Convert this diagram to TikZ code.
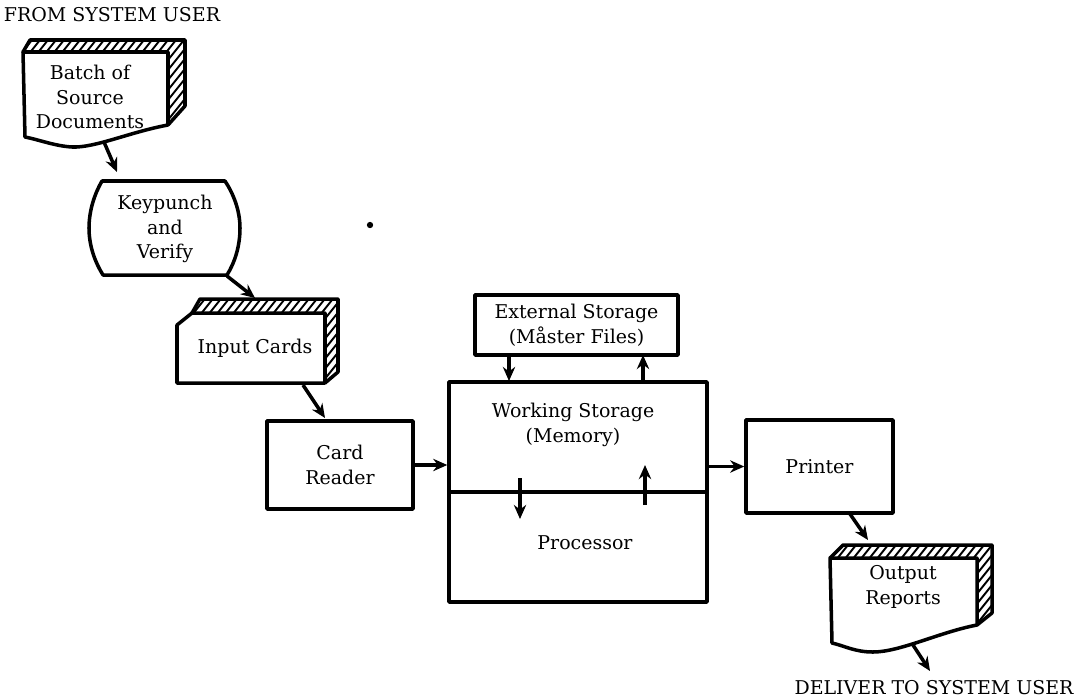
\documentclass[tikz,border=0pt]{standalone}
\usepackage{fontspec}
\setmainfont{DejaVu Serif}
\usetikzlibrary{arrows.meta}

\tikzset{
  box/.style={draw, line width=2pt, inner sep=0pt, align=center},
  outline/.style={line width=2pt},
  flow/.style={-{Stealth[length=8pt,width=7pt]}, line width=2pt},
  hatch/.style={line width=1.1pt},
  txt/.style={align=center, inner sep=0pt},
}

\begin{document}
\begin{tikzpicture}[x=0.02cm, y=-0.02cm, font=\fontsize{10.8}{14}\selectfont, line join=round]
    \useasboundingbox (0,0) rectangle (1081,697);

    % Batch of source documents
    \begin{scope}
        \clip (23,52) -- (30,40) -- (185,40) -- (185,106) -- (168,125) -- (168,52) -- cycle;
        \foreach \i in {-80,-72,...,190}
            \draw[hatch] (\i,130) -- (\i+80,30);
    \end{scope}
    \draw[outline] (23,52) -- (30,40) -- (185,40) -- (185,106) -- (168,125);
    \draw[outline] (23,52) -- (168,52) -- (168,125) .. controls (130,132) and (95,148) .. (72,147)
        .. controls (55,146) and (40,140) .. (25,137) -- cycle;
    \node[txt] (batch) at (90,97) {Batch of\\Source\\Documents};
    \node[txt] (from) at (112,15) {FROM SYSTEM USER};

    % Keypunch
    \draw[outline] (102,181) -- (225,181) .. controls (233,193) and (240,210) .. (240,228)
        .. controls (240,246) and (235,262) .. (227,275) -- (103,275)
        .. controls (95,262) and (89,246) .. (89,228) .. controls (89,210) and (95,193) .. (102,181) -- cycle;
    \node[txt] (key) at (165,229) {Keypunch\\and\\Verify};

    % Input cards
    \begin{scope}
        \clip (192,313) -- (200,299) -- (338,299) -- (338,372) -- (325,383) -- (325,313) -- cycle;
        \foreach \i in {100,108,...,340}
            \draw[hatch] (\i,390) -- (\i+80,290);
    \end{scope}
    \draw[outline] (192,313) -- (200,299) -- (338,299) -- (338,372) -- (325,383);
    \draw[outline] (177,325) -- (192,313) -- (325,313) -- (325,383) -- (177,383) -- cycle;
    \node[txt] (cards) at (255,348) {Input Cards};

    % Machine
    \node[box, minimum width=2.92cm, minimum height=1.76cm] (reader) at (340,465) {Card\\Reader};
    \node[box, minimum width=4.06cm, minimum height=1.2cm] (ext) at (576.5,325) {External Storage\\(Måster Files)};
    \node[box, minimum width=5.16cm, minimum height=4.4cm] (cpu) at (578,492) {};
    \draw[outline] (cpu.west) -- (cpu.east);
    \node[txt] (memory) at (573,425) {Working Storage\\(Memory)};
    \node[txt] (proc) at (585,543) {Processor};
    \node[box, minimum width=2.94cm, minimum height=1.86cm] (printer) at (819.5,466.5) {Printer};

    % Output reports
    \begin{scope}
        \clip (830,558) -- (843,545) -- (992,545) -- (992,613) -- (977,625) -- (977,558) -- cycle;
        \foreach \i in {700,708,...,1000}
            \draw[hatch] (\i,660) -- (\i+104,530);
    \end{scope}
    \draw[outline] (830,558) -- (843,545) -- (992,545) -- (992,613) -- (977,625);
    \draw[outline] (830,558) -- (977,558) -- (977,625) .. controls (940,632) and (900,652) .. (873,652)
        .. controls (855,652) and (845,646) .. (832,643) -- cycle;
    \node[txt] (reports) at (903,587) {Output\\Reports};
    \node[txt] (deliver) at (934,688) {DELIVER TO SYSTEM USER};

    % Flow
    \coordinate (b1) at (104,142);
    \coordinate (k0) at (117,172);
    \coordinate (k1) at (227,276);
    \coordinate (c0) at (255,298);
    \coordinate (c1) at (303,385);
    \coordinate (r0) at (325,418);
    \coordinate (e1) at (509,355);
    \coordinate (m0) at (509,381);
    \coordinate (m1) at (643,382);
    \coordinate (e0) at (643,355);
    \coordinate (p1) at (850,514);
    \coordinate (o0) at (868,540);
    \coordinate (o1) at (913,645);
    \coordinate (d0) at (930,671);
    \draw[flow] (b1) -- (k0);
    \draw[flow] (k1) -- (c0);
    \draw[flow] (c1) -- (r0);
    \draw[flow] (reader.east) -- (reader.east -| cpu.west);
    \draw[flow] (e1) -- (m0);
    \draw[flow] (m1) -- (e0);
    \draw[flow] (520,478) -- (520,519);
    \draw[flow] (645,505) -- (645,465);
    \draw[flow] (cpu.east |- printer.west) -- (printer.west);
    \draw[flow] (p1) -- (o0);
    \draw[flow] (o1) -- (d0);

    \fill (370,225) circle (1.8pt);
\end{tikzpicture}
\end{document}
